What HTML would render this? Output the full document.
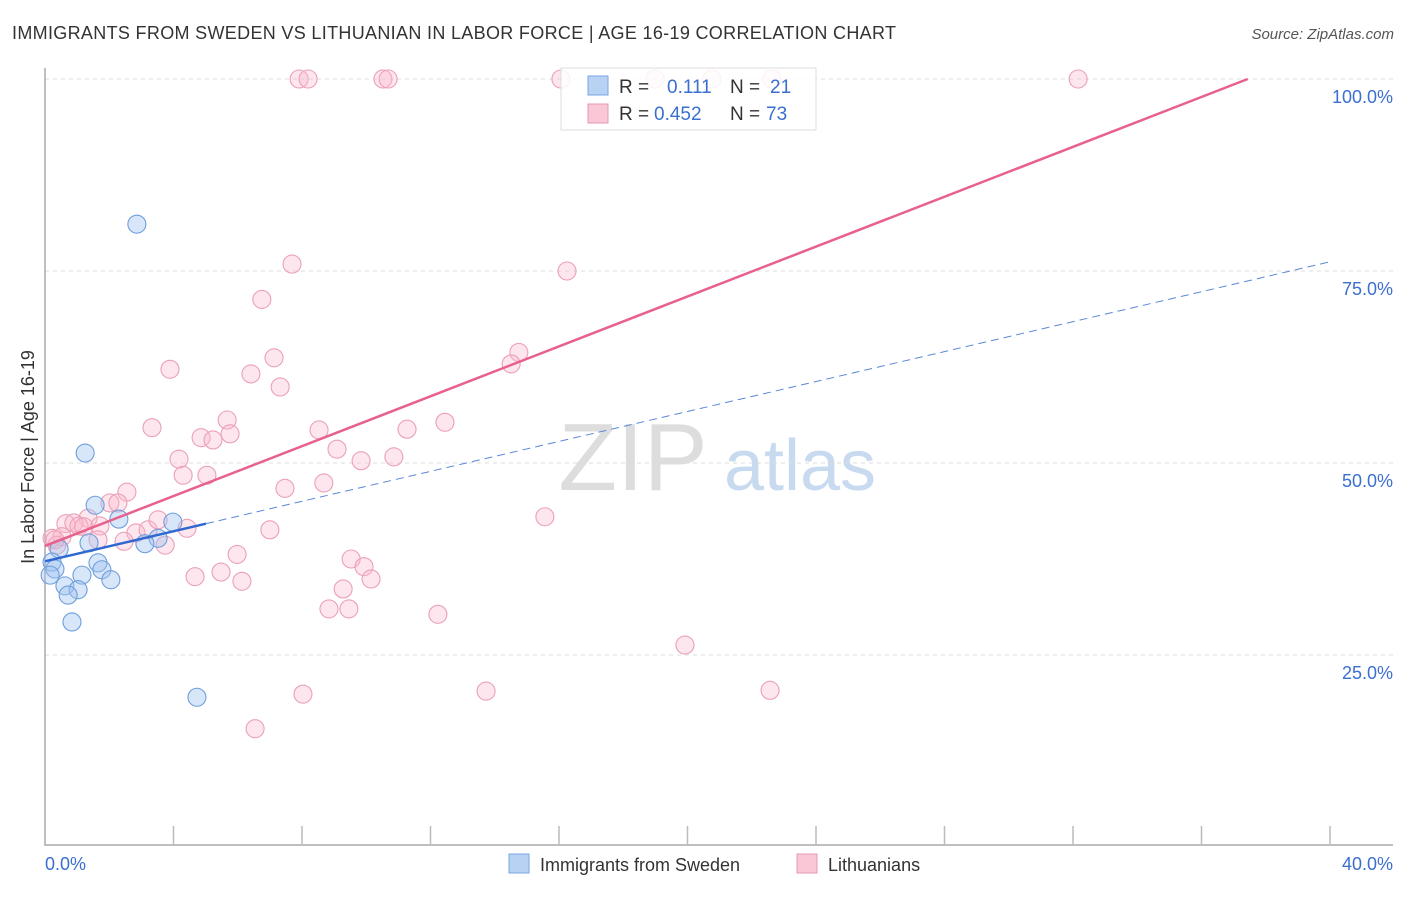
<!DOCTYPE html>
<html><head><meta charset="utf-8"><style>
body{margin:0;background:#fff;font-family:"Liberation Sans",sans-serif;}
svg text{font-family:"Liberation Sans",sans-serif;}
</style></head><body>
<svg id="chart" width="1406" height="892" xmlns="http://www.w3.org/2000/svg">
<text x="12" y="39" font-size="18" fill="#333" textLength="884">IMMIGRANTS FROM SWEDEN VS LITHUANIAN IN LABOR FORCE | AGE 16-19 CORRELATION CHART</text>
<text x="1394" y="39" font-size="15" fill="#555" font-style="italic" text-anchor="end">Source: ZipAtlas.com</text>
<text x="633" y="490" font-size="96" fill="#ddd" font-family="Liberation Serif" text-anchor="middle">ZIP</text>
<text x="800" y="490" font-size="72" fill="#c8daf0" text-anchor="middle">atlas</text>
<g id="grid"></g>
<g id="axes"></g>
<g id="pts"></g>
<g id="lines"></g>
<text transform="translate(34,457) rotate(-90)" font-size="18" fill="#333" text-anchor="middle">In Labor Force | Age 16-19</text>
<g>
<rect x="561" y="68" width="255" height="62" fill="#fff" fill-opacity="0.85" stroke="#ddd"/>
<rect x="588" y="76" width="20" height="19" fill="#b8d2f4" stroke="#7aa6e0"/>
<text x="619" y="93" font-size="19" fill="#333">R =</text><text x="667" y="93" font-size="19" fill="#3a6fd0">0.111</text>
<text x="730" y="93" font-size="19" fill="#333">N =</text><text x="770" y="93" font-size="19" fill="#3a6fd0">21</text>
<rect x="588" y="104" width="20" height="19" fill="#f9c7d6" stroke="#e899b2"/>
<text x="619" y="120" font-size="19" fill="#333">R =</text><text x="654" y="120" font-size="19" fill="#3a6fd0">0.452</text>
<text x="730" y="120" font-size="19" fill="#333">N =</text><text x="766" y="120" font-size="19" fill="#3a6fd0">73</text>
</g>
<g>
<rect x="509" y="854" width="20" height="19" fill="#b8d2f4" stroke="#7aa6e0"/>
<text x="540" y="871" font-size="18" fill="#333">Immigrants from Sweden</text>
<rect x="797" y="854" width="20" height="19" fill="#f9c7d6" stroke="#e899b2"/>
<text x="828" y="871" font-size="18" fill="#333">Lithuanians</text>
</g>
</svg>
<script>
const xTickLabels=["0.0%","40.0%"];
const yTicks=[25,50,75,100];
const yTickLabels=["25.0%","50.0%","75.0%","100.0%"];
const blueX=[2.86,1.25,1.56,2.30,3.98,3.52,1.37,3.11,0.44,0.22,0.31,1.65,1.77,0.16,1.15,2.05,0.62,1.03,0.72,0.84,4.73];
const blueY=[81.1,51.3,44.5,42.7,42.3,40.2,39.6,39.5,38.8,37.1,36.2,37.0,36.1,35.4,35.4,34.8,34.0,33.5,32.8,29.3,19.5];
const pinkX=[7.91,8.19,10.52,10.68,16.06,18.99,20.76,22.63,32.16,7.69,16.25,6.75,3.89,6.41,7.13,7.32,14.75,14.51,5.67,3.33,5.76,4.86,5.23,8.53,11.27,12.45,9.09,4.17,9.84,10.86,4.30,5.04,7.47,8.68,2.55,2.02,2.27,1.34,0.65,0.90,1.06,1.21,1.71,2.83,3.21,3.52,4.42,7.00,15.56,0.22,0.53,0.37,1.65,2.46,3.74,5.98,9.53,9.93,10.15,4.67,5.48,6.13,9.28,8.84,9.46,12.23,19.92,8.03,13.73,22.57,6.54,0.31];
const pinkY=[100,100,100,100,100,100,100,100,100,75.9,75.0,71.3,62.2,61.6,63.7,59.9,64.4,62.9,55.6,54.6,53.8,53.3,53.0,54.3,54.4,55.3,51.8,50.5,50.3,50.8,48.4,48.4,46.7,47.4,46.2,44.8,44.8,42.8,42.1,42.2,41.8,41.7,41.8,40.9,41.3,42.6,41.5,41.3,43.0,40.2,40.4,39.3,40.0,39.8,39.3,38.1,37.5,36.5,34.9,35.2,35.8,34.6,33.6,31.0,31.0,30.3,26.3,19.9,20.3,20.4,15.4,40.0];
const pinkTrend=[0,39.2,37.44,100];
const blueTrend=[0,37.2,5.01,42.1,40,76.2];
const NS="http://www.w3.org/2000/svg";
const X=v=>45+v/40*1285, Y=v=>847-v/100*768;
function mk(tag,attrs,parent){const e=document.createElementNS(NS,tag);for(const k in attrs)e.setAttribute(k,attrs[k]);document.getElementById(parent).appendChild(e);return e;}
yTicks.forEach((t,i)=>{
 const g=mk('line',{x1:45,x2:1393,y1:Y(t),y2:Y(t),stroke:'#ddd','stroke-dasharray':'4,4'},'grid');
 
 
 const l=mk('text',{x:1393,y:Y(t)+24,'font-size':18,fill:'#3a6fd0','text-anchor':'end'},'grid');l.textContent=yTickLabels[i];
 
 
});
const ax=mk('path',{d:'M45,68 V845 H1393',stroke:'#aaa',fill:'none','stroke-width':1.5},'axes');


for(let i=1;i<=10;i++){const t=mk('line',{x1:X(i*4),x2:X(i*4),y1:826,y2:845,stroke:'#bbb','stroke-width':1.5},'axes');
 
 }
const xl0=mk('text',{x:45,y:870,'font-size':18,fill:'#3a6fd0'},'axes');xl0.textContent=xTickLabels[0];


const xl1=mk('text',{x:1393,y:870,'font-size':18,fill:'#3a6fd0','text-anchor':'end'},'axes');xl1.textContent=xTickLabels[1];


pinkX.forEach((v,i)=>{const c=mk('circle',{cx:X(v),cy:Y(pinkY[i]),r:9,fill:'rgba(248,182,202,0.35)',stroke:'#eba0b8','stroke-width':1.1},'pts');
 
 });
blueX.forEach((v,i)=>{const c=mk('circle',{cx:X(v),cy:Y(blueY[i]),r:9,fill:'rgba(160,196,240,0.42)',stroke:'#6e9edc','stroke-width':1.1},'pts');
 
 });
const pl=mk('line',{x1:X(pinkTrend[0]),y1:Y(pinkTrend[1]),x2:X(pinkTrend[2]),y2:Y(pinkTrend[3]),stroke:'#e8608c','stroke-width':2.5},'lines');


const bl=mk('line',{x1:X(blueTrend[0]),y1:Y(blueTrend[1]),x2:X(blueTrend[2]),y2:Y(blueTrend[3]),stroke:'#2f68d0','stroke-width':2.5},'lines');


const bd=mk('line',{x1:X(blueTrend[2]),y1:Y(blueTrend[3]),x2:X(blueTrend[4]),y2:Y(blueTrend[5]),stroke:'#5a88d8','stroke-width':1,'stroke-dasharray':'8,5'},'lines');


</script>
</body></html>
